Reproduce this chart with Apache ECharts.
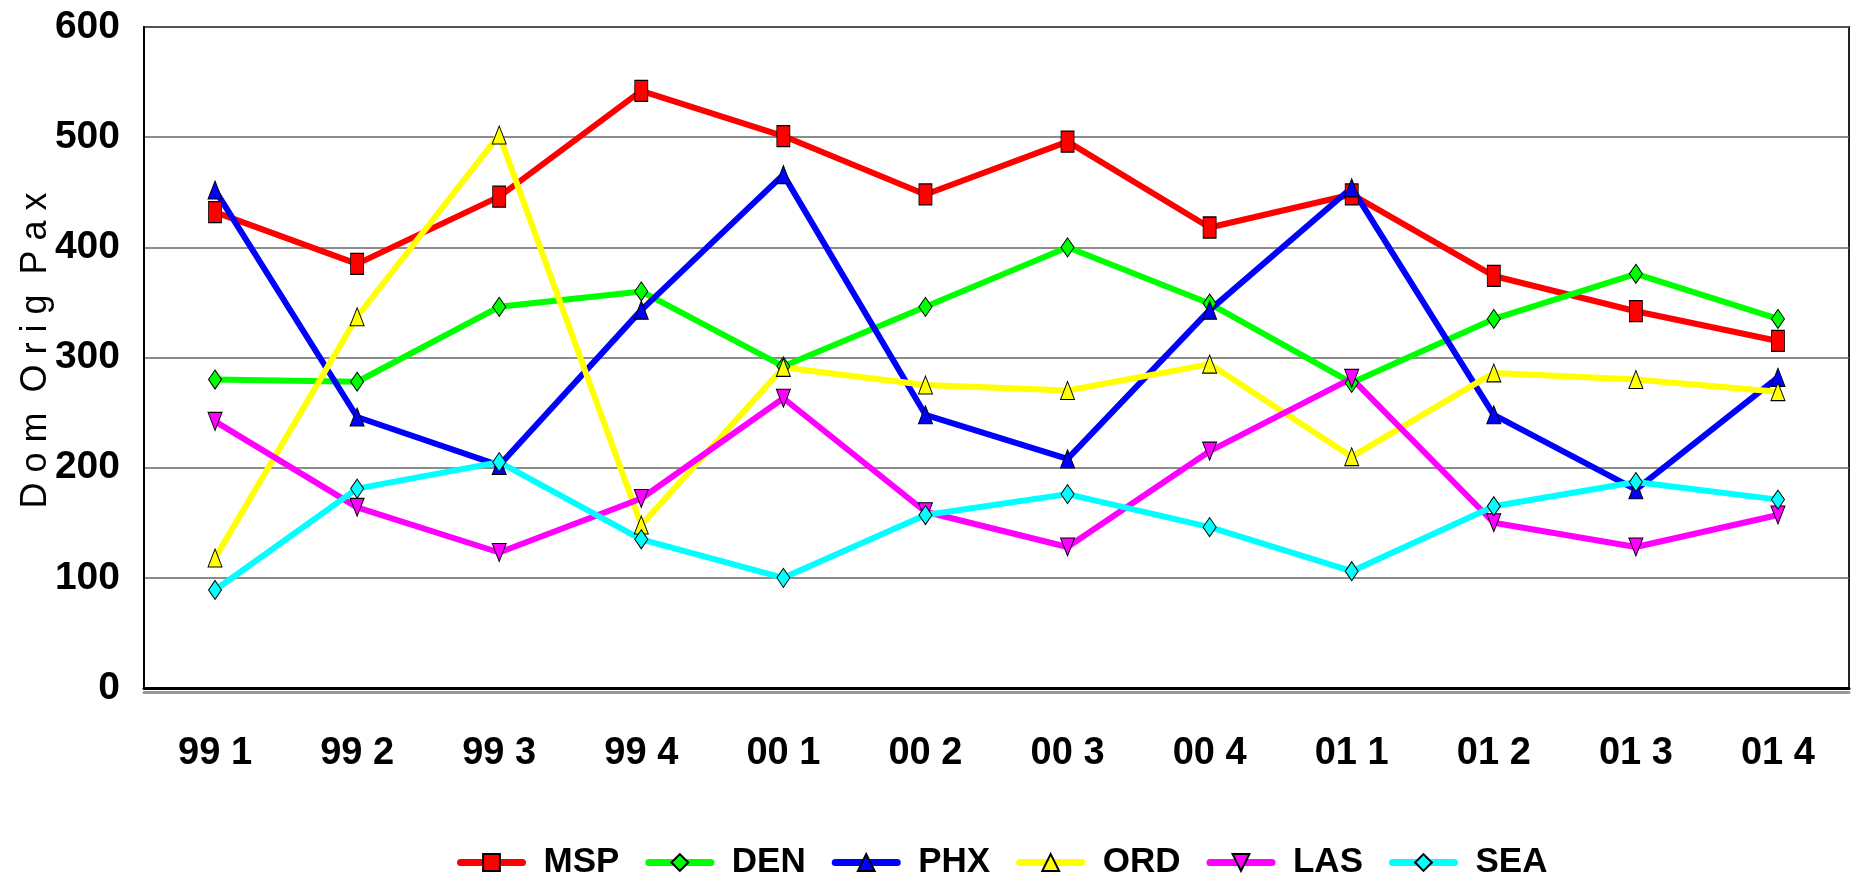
<!DOCTYPE html>
<html>
<head>
<meta charset="utf-8">
<script src="https://cdn.jsdelivr.net/npm/echarts@6/dist/echarts.min.js"></script>
<style>html,body{margin:0;padding:0;background:#fff}#chart{width:1856px;height:882px}</style>
</head>
<body>
<div id="chart"></div>
<script>
var categories = ['99 1','99 2','99 3','99 4','00 1','00 2','00 3','00 4','01 1','01 2','01 3','01 4'];
var MSP = [432, 385, 446, 542, 501, 448, 496, 418, 448, 374, 342, 315];
var DEN = [280, 278, 346, 360, 292, 346, 400, 349, 277, 335, 376, 335];
var PHX = [452, 246, 202, 343, 466, 248, 208, 343, 454, 248, 180, 282];
var ORD = [118, 337, 502, 148, 291, 275, 270, 294, 210, 286, 280, 269];
var LAS = [242, 164, 123, 172, 263, 160, 128, 215, 281, 150, 128, 157];
var SEA = [89, 181, 205, 135, 100, 157, 176, 146, 106, 165, 187, 171];
var yTicks = [0, 100, 200, 300, 400, 500, 600];

var FONT = '"Liberation Sans", Arial, sans-serif';

function mk(name, data, color, symbol, size, rotate) {
  return {
    name: name, type: 'line', data: data,
    symbol: symbol, symbolSize: size, symbolRotate: rotate || 0,
    lineStyle: { color: color, width: 6 },
    itemStyle: { color: color, borderColor: '#000', borderWidth: 1 },
    emphasis: { disabled: true },
    animation: false
  };
}

var chart = echarts.init(document.getElementById('chart'));
chart.setOption({
  backgroundColor: '#fff',
  animation: false,
  grid: { left: 144, right: 7, top: 27, bottom: 194, show: true, borderColor: '#222', borderWidth: 2, containLabel: false },
  xAxis: {
    type: 'category', data: categories, boundaryGap: true,
    axisLine: { show: true, lineStyle: { color: '#000', width: 3, shadowColor: '#999', shadowOffsetY: 4, shadowBlur: 0 } },
    axisTick: { show: false },
    axisLabel: { color: '#000', fontFamily: FONT, fontWeight: 'bold', fontSize: 38, margin: 47 },
    splitLine: { show: false }
  },
  yAxis: {
    type: 'value', min: yTicks[0], max: yTicks[yTicks.length - 1], interval: 100,
    name: 'D o m  O r i g  P a x', nameLocation: 'middle', nameGap: 90, nameRotate: 90,
    nameMoveOverlap: false,
    nameTextStyle: { color: '#000', fontFamily: FONT, fontWeight: 'normal', fontSize: 36, padding: [0, 0, 0, 14] },
    axisLine: { show: true, lineStyle: { color: '#000', width: 2 } },
    axisTick: { show: false },
    axisLabel: { color: '#000', fontFamily: FONT, fontWeight: 'bold', fontSize: 39, margin: 24 },
    splitLine: { show: true, lineStyle: { color: '#666', width: 1.5 } }
  },
  legend: {
    left: 452, top: 840, orient: 'horizontal',
    itemWidth: 62, itemHeight: 21, itemGap: 26,
    lineStyle: { width: 7, cap: 'round' },
    textStyle: { color: '#000', fontFamily: FONT, fontWeight: 'bold', fontSize: 35, padding: [0, 0, 0, 16] },
    data: ['MSP', 'DEN', 'PHX', 'ORD', 'LAS', 'SEA']
  },
  series: [
    mk('MSP', MSP, '#ff0000', 'rect', [13, 21]),
    mk('DEN', DEN, '#00ff00', 'diamond', [13, 19]),
    mk('PHX', PHX, '#0000ff', 'triangle', [14, 18]),
    mk('ORD', ORD, '#ffff00', 'triangle', [14, 18]),
    mk('LAS', LAS, '#ff00ff', 'triangle', [14, 18], 180),
    mk('SEA', SEA, '#00ffff', 'diamond', [13, 19])
  ]
});
</script>
</body>
</html>
